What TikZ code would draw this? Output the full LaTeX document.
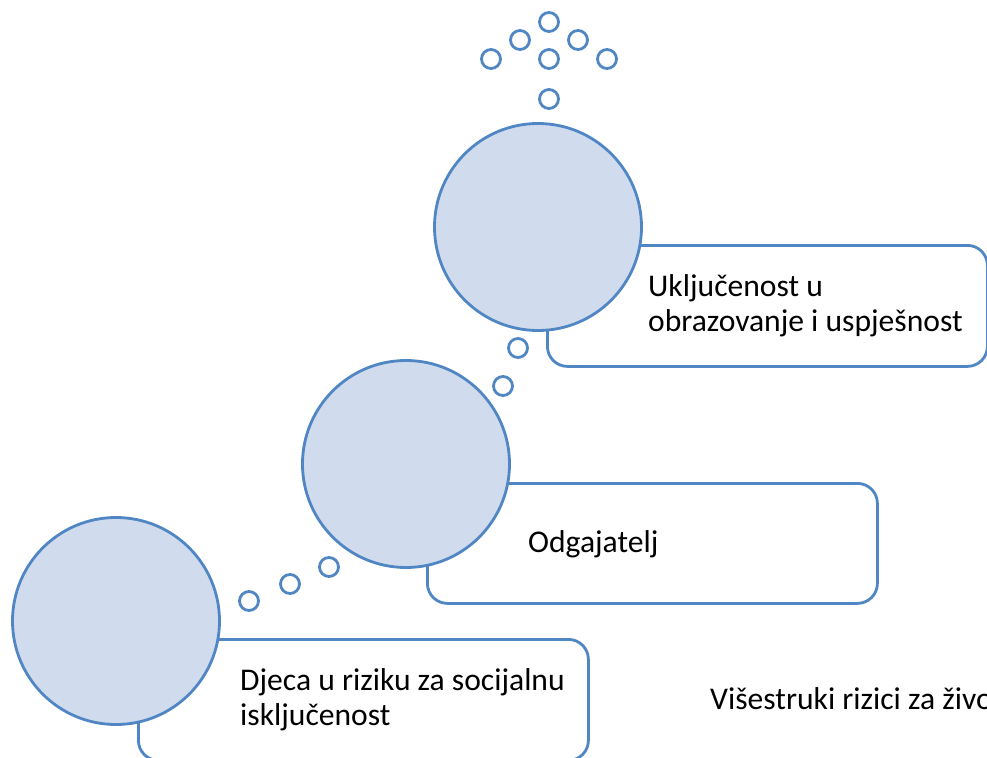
\documentclass[tikz,border=0pt]{standalone}
\usepackage{fontspec}
\setmainfont{Carlito}
\definecolor{sblue}{RGB}{80,134,195}
\definecolor{sfill}{RGB}{208,220,238}
\begin{document}
\begin{tikzpicture}[x=1pt,y=-1pt,
 bigc/.style={circle, draw=sblue, fill=sfill, line width=2.8pt, minimum size=207pt, inner sep=0pt},
 smallc/.style={circle, draw=sblue, line width=2.8pt, minimum size=19pt, inner sep=0pt},
 tbox/.style={draw=sblue, fill=white, line width=2.8pt, rounded corners=20pt, anchor=north west, inner sep=0pt},
 lbl/.style={font=\fontsize{31.6}{35}\selectfont, align=left, anchor=base west, inner sep=0pt}]
\useasboundingbox (0,0) rectangle (987,757);
% boxes
\node[tbox, minimum width=440pt, minimum height=121pt] (b1) at (546,244) {};
\node[tbox, minimum width=450pt, minimum height=120pt] (b2) at (426,482) {};
\node[tbox, minimum width=450pt, minimum height=121pt] (b3) at (137,638) {};
% big circles
\node[bigc] (c1) at (538,227) {};
\node[bigc] (c2) at (406,464) {};
\node[bigc] (c3) at (116,621) {};
% small circles
\node[smallc] (s1) at (549,22) {};
\node[smallc] (s2) at (520,40) {};
\node[smallc] (s3) at (578,40) {};
\node[smallc] (s4) at (491,59) {};
\node[smallc] (s5) at (549,59) {};
\node[smallc] (s6) at (607,59) {};
\node[smallc] (s7) at (549,99) {};
\node[smallc] (s8) at (518,348) {};
\node[smallc] (s9) at (503,386) {};
\node[smallc] (s10) at (329,567) {};
\node[smallc] (s11) at (290,584) {};
\node[smallc] (s12) at (249,601) {};
% texts
\node[lbl] (t1) at (648,331) {Uključenost u\\obrazovanje i uspješnost};
\node[lbl] (t2) at (528,552) {Odgajatelj};
\node[lbl] (t3) at (240,725) {Djeca u riziku za socijalnu\\isključenost};
\node[lbl] (t4) at (710,709) {Višestruki rizici za živo};
\end{tikzpicture}
\end{document}
